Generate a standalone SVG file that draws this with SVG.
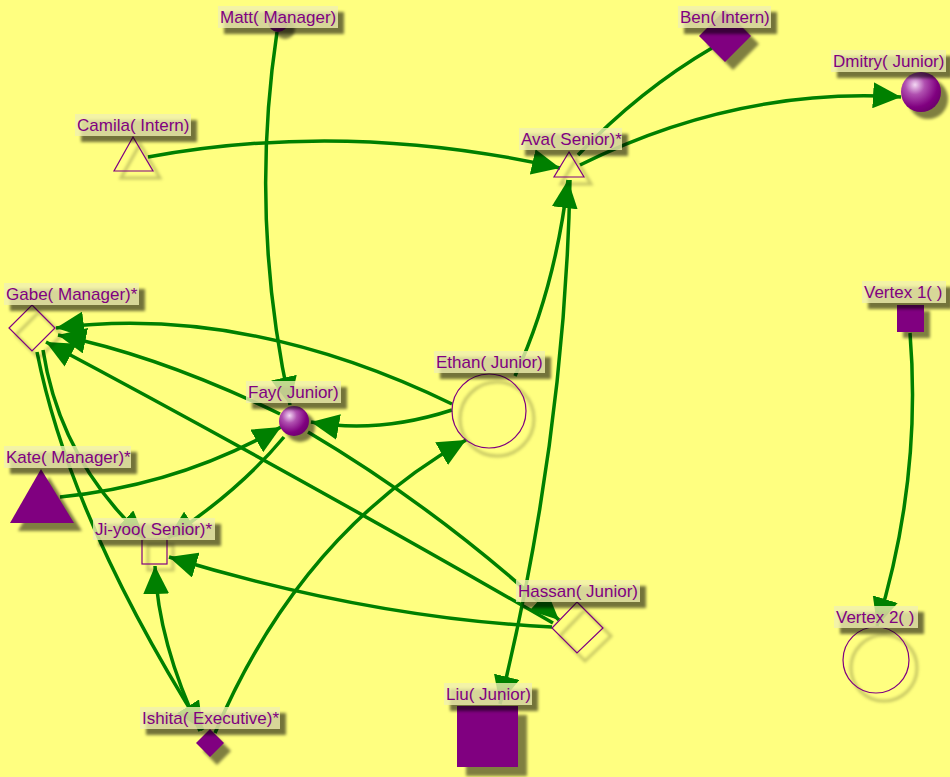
<svg xmlns="http://www.w3.org/2000/svg" width="950" height="777" viewBox="0 0 950 777">
<style>
.e{fill:none;stroke:#008000;stroke-width:3.5}
.a{marker-end:url(#arr)}
.lb text{font-family:"Liberation Sans",Arial,sans-serif;font-size:17px;fill:#800080}
.box{fill:#f0f0b0;fill-opacity:0.8}
.bs{fill:#000;fill-opacity:0.55;filter:url(#blur)}
.ns{fill:#000;fill-opacity:0.5;filter:url(#blur2)}
.os{fill:none;stroke:#000;stroke-opacity:0.22;stroke-width:3;filter:url(#blur2)}
.out{fill:none;stroke:#800080;stroke-width:1.2}
.fill{fill:#800080}
</style>
<defs>
<marker id="arr" markerUnits="userSpaceOnUse" markerWidth="30" markerHeight="26" refX="28" refY="13" orient="auto" viewBox="0 0 30 26">
<path d="M0,0 L28,13 L0,26 Z" fill="#008000"/>
</marker>
<filter id="blur" x="-20%" y="-50%" width="140%" height="200%"><feGaussianBlur stdDeviation="1.5"/></filter>
<filter id="blur2" x="-50%" y="-50%" width="200%" height="200%"><feGaussianBlur stdDeviation="1.5"/></filter>
<radialGradient id="sph" cx="0.35" cy="0.32" r="0.7">
<stop offset="0" stop-color="#f4d8f4"/>
<stop offset="0.35" stop-color="#b050b0"/>
<stop offset="0.8" stop-color="#800080"/>
<stop offset="1" stop-color="#700070"/>
</radialGradient>
</defs>
<rect width="950" height="777" fill="#ffff80"/>
<g id="edges">
<path class="e a" d="M277,32 Q249,218 290,405"/>
<path class="e" d="M712,48 Q640,90 578,155"/>
<path class="e a" d="M580,165 Q737,87 901,97"/>
<path class="e a" d="M148,157 Q348,120 560,168"/>
<path class="e a" d="M515,376 Q555,290 568,180"/>
<path class="e a" d="M570,180 Q565,438 500,704"/>
<path class="e a" d="M452,404 Q246,304 56,328"/>
<path class="e a" d="M452,410 Q378,434 311,422"/>
<path class="e a" d="M280,414 Q160,356 58,335"/>
<path class="e a" d="M553,623 Q272,462 46,342"/>
<path class="e a" d="M308,432 Q440,510 559,620"/>
<path class="e a" d="M552,627 Q370,618 169,557"/>
<path class="e a" d="M60,497 Q180,485 281,427"/>
<path class="e a" d="M284,437 Q240,490 168,538"/>
<path class="e a" d="M43,350 Q60,460 145,539"/>
<path class="e a" d="M37,352 Q70,519 203,730"/>
<path class="e a" d="M200,731 Q158,642 155,566"/>
<path class="e a" d="M215,733 Q300,533 466,440"/>
<path class="e a" d="M910,333 Q922,480 877,626"/>
</g>
<g id="n-matt"><circle class="ns" cx="285" cy="29" r="10"/><circle cx="278" cy="22" r="10" fill="url(#sph)"/></g>
<g id="n-ben"><polygon class="ns" points="733,18 759,44 733,70 707,44"/><polygon class="fill" points="725,10 751,36 725,62 699,36"/></g>
<g id="n-dmitry"><circle class="ns" cx="928" cy="99" r="20"/><circle cx="921" cy="92" r="20" fill="url(#sph)"/></g>
<g id="n-camila"><polygon class="os" points="140,144 121,178 160,178"/><polygon class="out" points="133,137 114,171 153,171"/></g>
<g id="n-ava"><polygon class="os" points="576,159 561,184 591,184"/><polygon class="out" points="569,152 554,177 584,177"/></g>
<g id="n-gabe"><polygon class="os" points="39,312 62,335 39,358 16,335"/><polygon class="out" points="32,305 55,328 32,351 9,328"/></g>
<g id="n-fay"><circle class="ns" cx="300" cy="427" r="15"/><circle cx="294" cy="421" r="15" fill="url(#sph)"/></g>
<g id="n-kate"><polygon class="ns" points="49,477 18,531 82,531"/><polygon class="fill" points="41,469 10,523 74,523"/></g>
<g id="n-jiyoo"><rect class="os" x="148" y="545" width="25" height="25"/><rect class="out" x="142" y="539" width="25" height="25"/></g>
<g id="n-ethan"><circle class="os" cx="497" cy="419" r="37"/><circle class="out" cx="489" cy="411" r="37"/></g>
<g id="n-hassan"><polygon class="os" points="585,610 611,636 585,661 560,636"/><polygon class="out" points="577,602 603,628 577,653 552,628"/></g>
<g id="n-ishita"><polygon class="ns" points="217,737 231,751 217,765 203,751"/><polygon class="fill" points="210,729 224,743 210,757 196,743"/></g>
<g id="n-liu"><rect class="ns" x="466" y="715" width="61" height="61"/><rect class="fill" x="457" y="706" width="61" height="61"/></g>
<g id="n-v1"><rect class="ns" x="903" y="311" width="27" height="27"/><rect class="fill" x="897" y="305" width="27" height="27"/></g>
<g id="n-v2"><circle class="os" cx="884" cy="668" r="33"/><circle class="out" cx="876" cy="660" r="33"/></g>
<g id="labels" class="lb">
<g id="l-matt"><rect class="bs" x="224" y="12" width="120" height="22"/><rect class="box" x="218" y="6" width="120" height="22"/><text x="220" y="23">Matt( Manager)</text></g>
<g id="l-ben"><rect class="bs" x="684" y="12" width="93" height="22"/><rect class="box" x="678" y="6" width="93" height="22"/><text x="680" y="23">Ben( Intern)</text></g>
<g id="l-dmitry"><rect class="bs" x="837" y="56" width="115" height="22"/><rect class="box" x="831" y="50" width="115" height="22"/><text x="833" y="67">Dmitry( Junior)</text></g>
<g id="l-camila"><rect class="bs" x="81" y="120" width="116" height="22"/><rect class="box" x="75" y="114" width="116" height="22"/><text x="77" y="131">Camila( Intern)</text></g>
<g id="l-ava"><rect class="bs" x="525" y="134" width="103" height="22"/><rect class="box" x="519" y="128" width="103" height="22"/><text x="521" y="145">Ava( Senior)*</text></g>
<g id="l-gabe"><rect class="bs" x="10" y="289" width="135" height="22"/><rect class="box" x="4" y="283" width="135" height="22"/><text x="6" y="300">Gabe( Manager)*</text></g>
<g id="l-fay"><rect class="bs" x="252" y="387" width="95" height="22"/><rect class="box" x="246" y="381" width="95" height="22"/><text x="248" y="398">Fay( Junior)</text></g>
<g id="l-kate"><rect class="bs" x="10" y="452" width="127" height="22"/><rect class="box" x="4" y="446" width="127" height="22"/><text x="6" y="463">Kate( Manager)*</text></g>
<g id="l-jiyoo"><rect class="bs" x="99" y="524" width="122" height="22"/><rect class="box" x="93" y="518" width="122" height="22"/><text x="95" y="535">Ji-yoo( Senior)*</text></g>
<g id="l-ethan"><rect class="bs" x="440" y="357" width="111" height="22"/><rect class="box" x="434" y="351" width="111" height="22"/><text x="436" y="368">Ethan( Junior)</text></g>
<g id="l-hassan"><rect class="bs" x="522" y="586" width="124" height="22"/><rect class="box" x="516" y="580" width="124" height="22"/><text x="518" y="597">Hassan( Junior)</text></g>
<g id="l-ishita"><rect class="bs" x="146" y="713" width="140" height="22"/><rect class="box" x="140" y="707" width="140" height="22"/><text x="142" y="724">Ishita( Executive)*</text></g>
<g id="l-liu"><rect class="bs" x="450" y="689" width="88" height="22"/><rect class="box" x="444" y="683" width="88" height="22"/><text x="446" y="700">Liu( Junior)</text></g>
<g id="l-v1"><rect class="bs" x="868" y="287" width="84" height="22"/><rect class="box" x="862" y="281" width="84" height="22"/><text x="864" y="298">Vertex 1( )</text></g>
<g id="l-v2"><rect class="bs" x="840" y="612" width="84" height="22"/><rect class="box" x="834" y="606" width="84" height="22"/><text x="836" y="623">Vertex 2( )</text></g>
</g>
</svg>
